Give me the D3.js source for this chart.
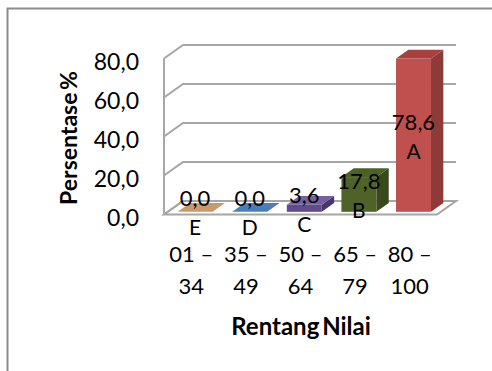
<!DOCTYPE html>
<html>
<head>
<meta charset="utf-8">
<script src="https://cdn.jsdelivr.net/npm/d3@7"></script>
<style>
  html, body { margin: 0; padding: 0; background: #fff; }
  svg { display: block; }
  text { font-family: Lato, "Open Sans", sans-serif; fill: #000; }
</style>
</head>
<body>
<svg id="chart" width="492" height="371"></svg>
<script>
// Data
const categories = ["01 – 34", "35 – 49", "50 – 64", "65 – 79", "80 – 100"];
const catLine1 = ["01 –", "35 –", "50 –", "65 –", "80 –"];
const catLine2 = ["34", "49", "64", "79", "100"];
const grades = ["E", "D", "C", "B", "A"];
const values = [0.0, 0.0, 3.6, 17.8, 78.6];
const yTicks = [0, 20, 40, 60, 80];

// Palette (front, side, top)
const frontColors = ["#C9996B", "#4A7EBB", "#5F4B8B", "#4F6228", "#C0504D"];
const sideColors  = ["#9C7550", "#365F8F", "#463669", "#3A481C", "#8E3A38"];
const topColors   = ["#C9996B", "#4A7EBB", "#7760A0", "#4D6127", "#A8413E"];

const svg = d3.select("#chart");
const fmt = v => d3.format(".1f")(v).replace(".", ",");

// Plot frame geometry
const x0 = 164, x1 = 437;       // front floor edge
const yBase = 214.5;            // front zero line
const depth = { dx: 19, dy: -13.5 };
const barDepthStart = 0.2, barDepthEnd = 0.85;

const x = d3.scaleBand().domain(categories).range([x0, x1]).paddingInner(0.36).paddingOuter(0.18);
const h = d3.scaleLinear().domain([0, 80]).range([0, 156]);

// Outer frame (chart area border)
svg.append("path")
  .attr("d", "M7.5,371 L7.5,8.5 L492,8.5")
  .attr("fill", "none").attr("stroke", "#8c8c8c").attr("stroke-width", 2);

const grid = svg.append("g");
// Floor
grid.append("path")
  .attr("d", `M${x0},${yBase} L${x1},${yBase} L${x1 + depth.dx},${yBase + depth.dy} L${x0 + depth.dx},${yBase + depth.dy} Z`)
  .attr("fill", "#fff").attr("stroke", "#a6a6a6").attr("stroke-width", 2);
// Left wall front edge
grid.append("line")
  .attr("x1", x0).attr("x2", x0)
  .attr("y1", yBase).attr("y2", yBase - h(80))
  .attr("stroke", "#a6a6a6").attr("stroke-width", 2);
// Gridlines: diagonal on side wall + horizontal on back wall
yTicks.forEach(t => {
  const yf = yBase - h(t);
  const yb = yf + depth.dy;
  grid.append("path")
    .attr("d", `M${x0},${yf} L${x0 + depth.dx},${yb} L${x1 + depth.dx},${yb}`)
    .attr("fill", "none").attr("stroke", "#a6a6a6").attr("stroke-width", 2);
});

// Y tick labels
svg.append("g").selectAll("text").data(yTicks).join("text")
  .attr("x", 139)
  .attr("y", d => yBase - h(d) + 2)
  .attr("text-anchor", "end")
  .attr("dominant-baseline", "central")
  .attr("font-size", 23)
  .text(d => fmt(d));

// 3D bars
const bars = svg.append("g");
values.forEach((v, i) => {
  const fx = x(categories[i]) + depth.dx * barDepthStart;
  const fy = yBase + depth.dy * barDepthStart;
  const w = x.bandwidth();
  const bh = h(v);
  const ddx = depth.dx * (barDepthEnd - barDepthStart);
  const ddy = depth.dy * (barDepthEnd - barDepthStart);
  const top = fy - bh;
  // side
  bars.append("path")
    .attr("d", `M${fx + w},${fy} L${fx + w + ddx},${fy + ddy} L${fx + w + ddx},${top + ddy} L${fx + w},${top} Z`)
    .attr("fill", sideColors[i]);
  // front
  bars.append("rect")
    .attr("x", fx).attr("y", top).attr("width", w).attr("height", bh)
    .attr("fill", frontColors[i]);
  // top
  bars.append("path")
    .attr("d", `M${fx},${top} L${fx + w},${top} L${fx + w + ddx},${top + ddy} L${fx + ddx},${top + ddy} Z`)
    .attr("fill", topColors[i]);
});

// Data labels: value and grade, centred on bar front face
const labels = svg.append("g");
values.forEach((v, i) => {
  const cx = x(categories[i]) + depth.dx * barDepthStart + x.bandwidth() / 2;
  const fy = yBase + depth.dy * barDepthStart;
  const mid = fy - h(v) / 2 + 2;
  labels.append("text")
    .attr("x", cx).attr("y", mid - 16)
    .attr("text-anchor", "middle").attr("dominant-baseline", "central")
    .attr("font-size", 22).text(fmt(v));
  labels.append("text")
    .attr("x", cx).attr("y", mid + 13)
    .attr("text-anchor", "middle").attr("dominant-baseline", "central")
    .attr("font-size", 21).text(grades[i]);
});

// Category labels (two lines)
const cats = svg.append("g");
categories.forEach((c, i) => {
  const cx = x(c) + x.bandwidth() / 2;
  cats.append("text")
    .attr("x", cx).attr("y", 253)
    .attr("text-anchor", "middle").attr("dominant-baseline", "central")
    .attr("font-size", 22).text(catLine1[i]);
  cats.append("text")
    .attr("x", cx).attr("y", 285)
    .attr("text-anchor", "middle").attr("dominant-baseline", "central")
    .attr("font-size", 22).text(catLine2[i]);
});

// Axis titles
svg.append("text")
  .attr("x", 301).attr("y", 325)
  .attr("text-anchor", "middle").attr("dominant-baseline", "central")
  .attr("font-size", 24).attr("font-weight", "bold")
  .attr("word-spacing", -3)
  .text("Rentang Nilai");

svg.append("text")
  .attr("transform", "translate(68,138) rotate(-90)")
  .attr("text-anchor", "middle").attr("dominant-baseline", "central")
  .attr("font-size", 23).attr("font-weight", "bold")
  .attr("word-spacing", -3)
  .text("Persentase %");
</script>
</body>
</html>
